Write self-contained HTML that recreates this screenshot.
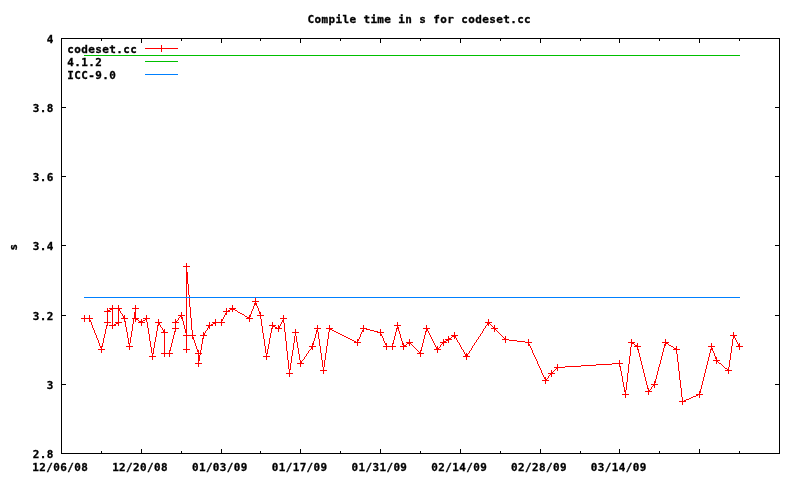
<!DOCTYPE html>
<html lang="en">
<head>
<meta charset="utf-8">
<title>Compile time in s for codeset.cc</title>
<style>
html,body{margin:0;padding:0;background:#fff;}
body{width:800px;height:480px;overflow:hidden;}
svg{display:block;}
text{fill:#000;}
</style>
</head>
<body>
<svg width="800" height="480" viewBox="0 0 800 480">
<rect x="0" y="0" width="800" height="480" fill="#ffffff"/>
<g stroke="#000" stroke-width="1" fill="none" shape-rendering="crispEdges">
<rect x="61.5" y="38.5" width="718.0" height="415.0"/>
<path d="M61.5 453.5h4.5M779.5 453.5h-4.5M61.5 384.5h4.5M779.5 384.5h-4.5M61.5 315.5h4.5M779.5 315.5h-4.5M61.5 245.5h4.5M779.5 245.5h-4.5M61.5 176.5h4.5M779.5 176.5h-4.5M61.5 107.5h4.5M779.5 107.5h-4.5M61.5 38.5h4.5M779.5 38.5h-4.5M61.5 453.5v-4.5M61.5 38.5v4.5M101.5 453.5v-2.5M101.5 38.5v2.5M141.5 453.5v-4.5M141.5 38.5v4.5M181.5 453.5v-2.5M181.5 38.5v2.5M221.5 453.5v-4.5M221.5 38.5v4.5M260.5 453.5v-2.5M260.5 38.5v2.5M300.5 453.5v-4.5M300.5 38.5v4.5M340.5 453.5v-2.5M340.5 38.5v2.5M380.5 453.5v-4.5M380.5 38.5v4.5M420.5 453.5v-2.5M420.5 38.5v2.5M460.5 453.5v-4.5M460.5 38.5v4.5M500.5 453.5v-2.5M500.5 38.5v2.5M540.5 453.5v-4.5M540.5 38.5v4.5M580.5 453.5v-2.5M580.5 38.5v2.5M619.5 453.5v-4.5M619.5 38.5v4.5M659.5 453.5v-2.5M659.5 38.5v2.5M699.5 453.5v-4.5M699.5 38.5v4.5M739.5 453.5v-2.5M739.5 38.5v2.5M779.5 453.5v-4.5M779.5 38.5v4.5"/>
</g>
<g font-family="'DejaVu Sans Mono','Liberation Mono',monospace" font-weight="bold" font-size="10.5px" letter-spacing="0.377px" stroke="#000" stroke-width="0.3">
<text transform="translate(419.30,22.60) scale(1.045,1)" text-anchor="middle">Compile time in s for codeset.cc</text>
<text transform="translate(16.50,247.00) rotate(-90) scale(1.045,1)" text-anchor="middle">s</text>
<text transform="translate(53.75,457.90) scale(1.045,1)" text-anchor="end">2.8</text>
<text transform="translate(53.75,388.90) scale(1.045,1)" text-anchor="end">3</text>
<text transform="translate(53.75,319.90) scale(1.045,1)" text-anchor="end">3.2</text>
<text transform="translate(53.75,249.90) scale(1.045,1)" text-anchor="end">3.4</text>
<text transform="translate(53.75,180.90) scale(1.045,1)" text-anchor="end">3.6</text>
<text transform="translate(53.75,111.90) scale(1.045,1)" text-anchor="end">3.8</text>
<text transform="translate(53.75,42.90) scale(1.045,1)" text-anchor="end">4</text>
<text transform="translate(60.30,471.30) scale(1.045,1)" text-anchor="middle">12/06/08</text>
<text transform="translate(140.08,471.30) scale(1.045,1)" text-anchor="middle">12/20/08</text>
<text transform="translate(219.86,471.30) scale(1.045,1)" text-anchor="middle">01/03/09</text>
<text transform="translate(299.63,471.30) scale(1.045,1)" text-anchor="middle">01/17/09</text>
<text transform="translate(379.41,471.30) scale(1.045,1)" text-anchor="middle">01/31/09</text>
<text transform="translate(459.19,471.30) scale(1.045,1)" text-anchor="middle">02/14/09</text>
<text transform="translate(538.97,471.30) scale(1.045,1)" text-anchor="middle">02/28/09</text>
<text transform="translate(618.74,471.30) scale(1.045,1)" text-anchor="middle">03/14/09</text>
<text transform="translate(67.30,52.60) scale(1.045,1)" text-anchor="start">codeset.cc</text>
<text transform="translate(67.30,65.60) scale(1.045,1)" text-anchor="start">4.1.2</text>
<text transform="translate(67.30,78.60) scale(1.045,1)" text-anchor="start">ICC-9.0</text>
</g>
<g fill="none" stroke-width="1" shape-rendering="crispEdges">
<path stroke="#ff0000" d="M145 48.5H178M161.5 45v7"/>
<path stroke="#ff0000" d="M89.5 318v2M90.5 320v2M91.5 322v3M92.5 325v3M93.5 328v2M94.5 330v3M95.5 333v2M96.5 335v3M97.5 338v2M98.5 340v3M99.5 343v3M100.5 346v2M101.5 347v3M102.5 343v4M103.5 338v5M104.5 334v4M105.5 329v5M106.5 325v4M107.5 311v14M112.5 308v18M118.5 308v15M119.5 309v2M120.5 311v2M122.5 314v2M123.5 316v2M124.5 318v3M125.5 321v6M126.5 327v5M127.5 332v6M128.5 338v6M129.5 343v4M130.5 337v6M131.5 331v6M132.5 324v7M133.5 318v6M134.5 312v6M135.5 308v11M146.5 318v4M147.5 322v6M148.5 328v6M149.5 334v7M150.5 341v6M151.5 347v6M152.5 353v4M153.5 348v6M154.5 342v6M155.5 337v5M156.5 331v6M157.5 325v6M158.5 322v3M159.5 323v2M160.5 325v2M162.5 328v2M163.5 330v2M164.5 332v22M169.5 351v3M170.5 347v4M171.5 343v4M172.5 339v4M173.5 335v4M174.5 331v4M175.5 322v9M178.5 318v2M181.5 315v2M182.5 317v4M183.5 321v4M184.5 325v4M185.5 329v4M186.5 266v84M187.5 272v12M188.5 284v11M189.5 295v12M190.5 307v11M191.5 318v12M192.5 330v7M193.5 337v3M194.5 340v3M195.5 343v3M196.5 346v3M197.5 349v3M198.5 352v12M199.5 355v6M200.5 350v5M201.5 344v6M202.5 338v6M203.5 335v3M204.5 333v2M205.5 331v2M207.5 328v2M208.5 326v2M221.5 321v2M222.5 319v2M223.5 317v2M224.5 315v2M225.5 313v2M226.5 311v2M249.5 317v2M250.5 314v3M251.5 311v3M252.5 309v2M253.5 306v3M254.5 303v3M255.5 301v2M256.5 303v3M257.5 306v2M258.5 308v3M259.5 311v3M260.5 314v5M261.5 319v7M262.5 326v7M263.5 333v6M264.5 339v7M265.5 346v7M266.5 353v4M267.5 349v5M268.5 344v5M269.5 338v6M270.5 333v5M271.5 328v5M272.5 325v3M279.5 326v2M280.5 324v2M281.5 322v2M282.5 320v2M283.5 318v5M284.5 323v9M285.5 332v9M286.5 341v10M287.5 351v9M288.5 360v9M289.5 369v5M290.5 363v7M291.5 356v7M292.5 350v6M293.5 343v7M294.5 336v7M295.5 332v4M296.5 336v6M297.5 342v6M298.5 348v6M299.5 354v6M300.5 360v4M301.5 361v2M304.5 357v2M306.5 354v2M308.5 351v2M311.5 347v2M312.5 345v2M313.5 341v4M314.5 338v3M315.5 334v4M316.5 330v4M317.5 328v4M318.5 332v7M319.5 339v7M320.5 346v7M321.5 353v7M322.5 360v7M323.5 367v4M324.5 360v7M325.5 353v7M326.5 346v7M327.5 339v7M328.5 332v7M329.5 328v4M357.5 341v2M358.5 339v2M359.5 337v2M360.5 334v3M361.5 332v2M362.5 330v2M363.5 328v2M380.5 332v2M381.5 334v2M382.5 336v2M383.5 338v3M384.5 341v2M385.5 343v2M386.5 345v2M392.5 344v3M393.5 340v4M394.5 336v4M395.5 332v4M396.5 328v4M397.5 325v3M398.5 327v4M399.5 331v3M400.5 334v4M401.5 338v3M402.5 341v4M403.5 345v2M420.5 351v3M421.5 347v4M422.5 343v4M423.5 339v4M424.5 335v4M425.5 331v4M426.5 328v3M427.5 329v2M428.5 331v2M429.5 333v2M430.5 335v2M431.5 337v2M432.5 339v2M433.5 341v2M434.5 343v2M435.5 345v2M436.5 347v2M440.5 345v2M455.5 336v2M456.5 338v2M457.5 340v2M459.5 343v2M460.5 345v2M461.5 347v2M463.5 350v2M464.5 352v2M465.5 354v2M467.5 354v2M469.5 351v2M471.5 348v2M472.5 346v2M474.5 343v2M476.5 340v2M478.5 337v2M480.5 334v2M482.5 331v2M483.5 329v2M485.5 326v2M487.5 323v2M528.5 342v2M529.5 344v2M530.5 346v2M531.5 348v2M532.5 350v3M533.5 353v2M534.5 355v2M535.5 357v2M536.5 359v2M537.5 361v3M538.5 364v2M539.5 366v2M540.5 368v2M541.5 370v3M542.5 373v2M543.5 375v2M544.5 377v2M545.5 379v2M548.5 376v2M619.5 363v3M620.5 366v5M621.5 371v5M622.5 376v6M623.5 382v5M624.5 387v5M625.5 390v5M626.5 382v8M627.5 373v9M628.5 364v9M629.5 356v8M630.5 347v9M631.5 342v5M637.5 346v3M638.5 349v4M639.5 353v4M640.5 357v4M641.5 361v4M642.5 365v4M643.5 369v4M644.5 373v4M645.5 377v4M646.5 381v4M647.5 385v4M648.5 389v3M651.5 387v2M654.5 383v2M655.5 379v4M656.5 375v4M657.5 371v4M658.5 367v4M659.5 364v3M660.5 360v4M661.5 356v4M662.5 352v4M663.5 348v4M664.5 344v4M665.5 342v2M676.5 349v5M677.5 354v8M678.5 362v9M679.5 371v9M680.5 380v8M681.5 388v9M682.5 397v5M699.5 393v2M700.5 389v4M701.5 385v4M702.5 381v4M703.5 377v4M704.5 373v4M705.5 369v4M706.5 365v4M707.5 361v4M708.5 357v4M709.5 353v4M710.5 349v4M711.5 346v3M712.5 348v3M713.5 351v2M714.5 353v3M715.5 356v3M716.5 359v2M728.5 367v4M729.5 360v7M730.5 353v7M731.5 346v7M732.5 339v7M733.5 335v4M734.5 336v2M735.5 338v2M736.5 340v2M737.5 342v2M738.5 344v2M232 308.5h1M110 309.5h2M230 309.5h2M233 309.5h2M108 310.5h2M228 310.5h2M235 310.5h2M227 311.5h1M237 311.5h1M238 312.5h2M121 313.5h1M240 313.5h2M242 314.5h2M244 315.5h1M180 316.5h1M245 316.5h2M179 317.5h1M247 317.5h2M84 318.5h5M136 319.5h2M145 319.5h1M138 320.5h1M143 320.5h2M177 320.5h1M139 321.5h2M142 321.5h1M176 321.5h1M141 322.5h1M215 322.5h6M488 322.5h1M116 323.5h2M213 323.5h2M489 323.5h1M114 324.5h2M211 324.5h2M490 324.5h1M113 325.5h1M209 325.5h2M486 325.5h1M491 325.5h1M273 326.5h2M492 326.5h1M161 327.5h1M275 327.5h2M493 327.5h1M277 328.5h2M364 328.5h2M484 328.5h1M494 328.5h1M330 329.5h2M366 329.5h4M495 329.5h1M206 330.5h1M332 330.5h2M370 330.5h4M496 330.5h1M334 331.5h2M374 331.5h4M497 331.5h1M336 332.5h2M378 332.5h2M498 332.5h1M338 333.5h2M481 333.5h1M499 333.5h1M340 334.5h2M500 334.5h1M342 335.5h2M454 335.5h1M501 335.5h1M344 336.5h2M452 336.5h2M479 336.5h1M502 336.5h1M346 337.5h2M451 337.5h1M503 337.5h1M348 338.5h2M449 338.5h2M504 338.5h1M350 339.5h2M448 339.5h1M477 339.5h1M505 339.5h4M352 340.5h2M446 340.5h2M509 340.5h8M354 341.5h2M444 341.5h2M517 341.5h8M356 342.5h1M409 342.5h1M443 342.5h1M458 342.5h1M475 342.5h1M525 342.5h3M407 343.5h2M410 343.5h1M442 343.5h1M632 343.5h2M666 343.5h2M406 344.5h1M411 344.5h1M441 344.5h1M634 344.5h1M668 344.5h1M404 345.5h2M412 345.5h1M473 345.5h1M635 345.5h2M669 345.5h2M387 346.5h5M413 346.5h1M671 346.5h2M739 346.5h1M414 347.5h1M439 347.5h1M673 347.5h1M415 348.5h1M438 348.5h1M674 348.5h2M310 349.5h1M416 349.5h1M437 349.5h1M462 349.5h1M309 350.5h1M417 350.5h1M470 350.5h1M418 351.5h1M419 352.5h1M165 353.5h4M307 353.5h1M468 353.5h1M305 356.5h1M466 356.5h1M303 359.5h1M302 360.5h1M717 361.5h1M718 362.5h1M612 363.5h7M719 363.5h2M596 364.5h16M721 364.5h1M581 365.5h15M722 365.5h1M565 366.5h16M723 366.5h1M557 367.5h8M724 367.5h1M556 368.5h1M725 368.5h2M555 369.5h1M727 369.5h1M554 370.5h1M553 371.5h1M552 372.5h1M551 373.5h1M550 374.5h1M549 375.5h1M547 378.5h1M546 379.5h1M653 385.5h1M652 386.5h1M650 389.5h1M649 390.5h1M698 394.5h1M696 395.5h2M693 396.5h3M691 397.5h2M689 398.5h2M686 399.5h3M684 400.5h2M683 401.5h1"/>
<path stroke="#ff0000" d="M81.0 318.5h7M84.5 315.0v7M86.0 318.5h7M89.5 315.0v7M98.0 349.5h7M101.5 346.0v7M104.0 322.5h7M107.5 319.0v7M104.0 311.5h7M107.5 308.0v7M109.0 308.5h7M112.5 305.0v7M109.0 325.5h7M112.5 322.0v7M115.0 322.5h7M118.5 319.0v7M115.0 308.5h7M118.5 305.0v7M121.0 318.5h7M124.5 315.0v7M126.0 346.5h7M129.5 343.0v7M132.0 308.5h7M135.5 305.0v7M132.0 318.5h7M135.5 315.0v7M138.0 322.5h7M141.5 319.0v7M143.0 318.5h7M146.5 315.0v7M149.0 356.5h7M152.5 353.0v7M155.0 322.5h7M158.5 319.0v7M161.0 332.5h7M164.5 329.0v7M161.0 353.5h7M164.5 350.0v7M166.0 353.5h7M169.5 350.0v7M172.0 328.5h7M175.5 325.0v7M172.0 322.5h7M175.5 319.0v7M178.0 315.5h7M181.5 312.0v7M183.0 335.5h7M186.5 332.0v7M183.0 349.5h7M186.5 346.0v7M183.0 266.5h7M186.5 263.0v7M189.0 335.5h7M192.5 332.0v7M195.0 353.5h7M198.5 350.0v7M195.0 363.5h7M198.5 360.0v7M200.0 335.5h7M203.5 332.0v7M206.0 325.5h7M209.5 322.0v7M212.0 322.5h7M215.5 319.0v7M218.0 322.5h7M221.5 319.0v7M223.0 311.5h7M226.5 308.0v7M229.0 308.5h7M232.5 305.0v7M246.0 318.5h7M249.5 315.0v7M252.0 301.5h7M255.5 298.0v7M257.0 315.5h7M260.5 312.0v7M263.0 356.5h7M266.5 353.0v7M269.0 325.5h7M272.5 322.0v7M275.0 328.5h7M278.5 325.0v7M280.0 318.5h7M283.5 315.0v7M286.0 373.5h7M289.5 370.0v7M292.0 332.5h7M295.5 329.0v7M297.0 363.5h7M300.5 360.0v7M309.0 346.5h7M312.5 343.0v7M314.0 328.5h7M317.5 325.0v7M320.0 370.5h7M323.5 367.0v7M326.0 328.5h7M329.5 325.0v7M354.0 342.5h7M357.5 339.0v7M360.0 328.5h7M363.5 325.0v7M377.0 332.5h7M380.5 329.0v7M383.0 346.5h7M386.5 343.0v7M389.0 346.5h7M392.5 343.0v7M394.0 325.5h7M397.5 322.0v7M400.0 346.5h7M403.5 343.0v7M406.0 342.5h7M409.5 339.0v7M417.0 353.5h7M420.5 350.0v7M423.0 328.5h7M426.5 325.0v7M434.0 349.5h7M437.5 346.0v7M440.0 342.5h7M443.5 339.0v7M445.0 339.5h7M448.5 336.0v7M451.0 335.5h7M454.5 332.0v7M463.0 356.5h7M466.5 353.0v7M485.0 322.5h7M488.5 319.0v7M491.0 328.5h7M494.5 325.0v7M502.0 339.5h7M505.5 336.0v7M525.0 342.5h7M528.5 339.0v7M542.0 380.5h7M545.5 377.0v7M548.0 373.5h7M551.5 370.0v7M554.0 367.5h7M557.5 364.0v7M616.0 363.5h7M619.5 360.0v7M622.0 394.5h7M625.5 391.0v7M628.0 342.5h7M631.5 339.0v7M634.0 346.5h7M637.5 343.0v7M645.0 391.5h7M648.5 388.0v7M651.0 384.5h7M654.5 381.0v7M662.0 342.5h7M665.5 339.0v7M673.0 349.5h7M676.5 346.0v7M679.0 401.5h7M682.5 398.0v7M696.0 394.5h7M699.5 391.0v7M708.0 346.5h7M711.5 343.0v7M713.0 360.5h7M716.5 357.0v7M725.0 370.5h7M728.5 367.0v7M730.0 335.5h7M733.5 332.0v7M736.0 346.5h7M739.5 343.0v7"/>
<path stroke="#00c000" d="M84 55.5H740M145 61.5H178"/>
<path stroke="#0080ff" d="M84 297.5H740M145 74.5H178"/>
</g>
</svg>
</body>
</html>
